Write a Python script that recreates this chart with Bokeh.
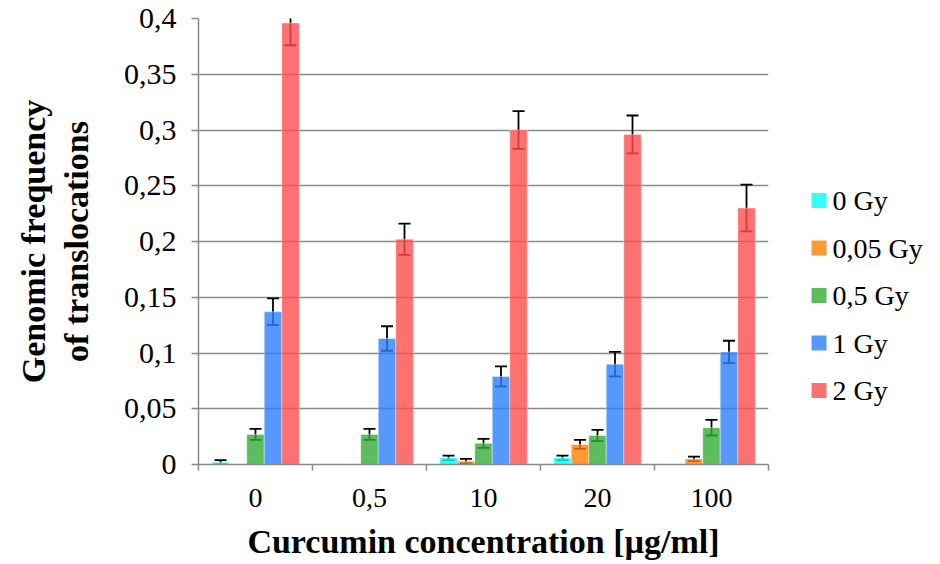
from bokeh.plotting import figure
from bokeh.layouts import row
from bokeh.models import (Range1d, FixedTicker, ColumnDataSource, Whisker, TeeHead,
                          CustomJSTickFormatter)
from bokeh.core.properties import value
from bokeh.embed import file_html
from bokeh.resources import INLINE

cats = ["0", "0,5", "10", "20", "100"]
series = ["0 Gy", "0,05 Gy", "0,5 Gy", "1 Gy", "2 Gy"]
gy0 = [0.002, 0.0, 0.006, 0.006, 0.0]
gy0_err = [0.002, 0.0, 0.002, 0.002, 0.0]
gy005 = [0.0, 0.0, 0.003, 0.018, 0.005]
gy005_err = [0.0, 0.0, 0.002, 0.004, 0.002]
gy05 = [0.027, 0.027, 0.019, 0.026, 0.033]
gy05_err = [0.005, 0.005, 0.004, 0.005, 0.007]
gy1 = [0.137, 0.113, 0.079, 0.090, 0.101]
gy1_err = [0.012, 0.011, 0.009, 0.011, 0.010]
gy2 = [0.396, 0.202, 0.300, 0.296, 0.230]
gy2_err = [0.020, 0.014, 0.017, 0.017, 0.021]
y_ticks = [0, 0.05, 0.1, 0.15, 0.2, 0.25, 0.3, 0.35, 0.4]

values = [gy0, gy005, gy05, gy1, gy2]
errors = [gy0_err, gy005_err, gy05_err, gy1_err, gy2_err]
colors = ["#00FFFF", "#FF7F00", "#33AC33", "#2A7FFF", "#FF4C4C"]

FONT = "Liberation Serif"
GRID = "#8A8A8A"
H = 562
TOP, BOTTOM = 18, 464   # frame edges (pixels from top)

p = figure(width=770, height=H, output_backend="svg", toolbar_location=None,
           x_range=Range1d(0, len(cats)), y_range=Range1d(0, 0.4),
           min_border_left=198, min_border_right=2, min_border_top=TOP,
           min_border_bottom=H - BOTTOM)
p.outline_line_color = None
p.background_fill_color = "white"

bw = 0.1535
n = len(series)
for j, (name, vals, errs, col) in enumerate(zip(series, values, errors, colors)):
    xs = [i + 0.5 + (j - (n - 1) / 2) * bw for i in range(len(cats))]
    src = ColumnDataSource(dict(x=xs, top=vals))
    p.vbar(x="x", top="top", width=bw, source=src, fill_color=col, fill_alpha=0.8,
           line_color="white", line_alpha=0.5, line_width=0.8)
    ex = [x for x, v in zip(xs, vals) if v > 0]
    up = [v + e for v, e in zip(vals, errs) if v > 0]
    lo = [v - e for v, e in zip(vals, errs) if v > 0]
    esrc = ColumnDataSource(dict(base=ex, upper=up, lower=lo))
    w = Whisker(base="base", upper="upper", lower="lower", source=esrc,
                line_color="black", line_width=1.8,
                upper_head=TeeHead(size=12, line_color="black", line_width=1.8),
                lower_head=TeeHead(size=12, line_color="black", line_width=1.8))
    p.add_layout(w)

# x axis: labels at category centers, tick marks at category boundaries
xt = FixedTicker(ticks=[i + 0.5 for i in range(len(cats))],
                 minor_ticks=list(range(len(cats) + 1)))
p.xaxis.ticker = xt
p.xaxis.major_label_overrides = {i + 0.5: c for i, c in enumerate(cats)}
p.xaxis.major_tick_line_color = None
p.xaxis.minor_tick_line_color = GRID
p.xaxis.minor_tick_line_width = 1.5
p.xaxis.minor_tick_out = 6
p.xaxis.minor_tick_in = 0
p.xaxis.axis_line_color = GRID
p.xaxis.axis_line_width = 1.5
p.xaxis.major_label_text_font = FONT
p.xaxis.major_label_text_font_size = "28px"
p.xaxis.major_label_text_color = "black"
p.xaxis.major_label_standoff = 18
p.xaxis.axis_label = "Curcumin concentration [µg/ml]"
p.xaxis.axis_label_text_font = FONT
p.xaxis.axis_label_text_font_style = "bold"
p.xaxis.axis_label_text_font_size = "34px"
p.xaxis.axis_label_text_color = "black"
p.xaxis.axis_label_standoff = 13

p.yaxis.ticker = FixedTicker(ticks=y_ticks)
p.yaxis.formatter = CustomJSTickFormatter(
    code="return String(Math.round(tick*100)/100).replace('.', ',');")
p.yaxis.major_tick_line_color = GRID
p.yaxis.major_tick_line_width = 1.5
p.yaxis.major_tick_out = 7
p.yaxis.major_tick_in = 0
p.yaxis.minor_tick_line_color = None
p.yaxis.axis_line_color = GRID
p.yaxis.axis_line_width = 1.5
p.yaxis.major_label_text_font = FONT
p.yaxis.major_label_text_font_size = "30px"
p.yaxis.major_label_text_color = "black"
p.yaxis.major_label_standoff = 15
p.yaxis.axis_label = "Genomic frequency\nof translocations"
p.yaxis.axis_label_text_font = FONT
p.yaxis.axis_label_text_font_style = "bold"
p.yaxis.axis_label_text_font_size = "34px"
p.yaxis.axis_label_text_line_height = 1.15
p.yaxis.axis_label_text_color = "black"
p.yaxis.axis_label_standoff = 26

p.xgrid.grid_line_color = None
p.ygrid.ticker = FixedTicker(ticks=y_ticks)
p.ygrid.grid_line_color = GRID
p.ygrid.grid_line_width = 1.5

# legend panel to the right of the plot; its frame is aligned with the main frame,
# so use pixel-like coordinates (y downward) spanning the same frame
LW = 168
lg = figure(width=LW, height=H, output_backend="svg", toolbar_location=None,
            x_range=Range1d(0, LW), y_range=Range1d(BOTTOM, TOP),
            min_border=0, outline_line_color=None)
lg.axis.visible = False
lg.grid.visible = False
top_item, step = 200, 47.5
ys = [top_item + i * step for i in range(len(series))]
lsrc = ColumnDataSource(dict(x=[48.5] * len(series), tx=[62] * len(series), y=ys,
                             label=series, color=colors))
lg.scatter(x="x", y="y", marker="square", size=15, fill_color="color", fill_alpha=0.8,
           line_color=None, source=lsrc)
lg.text(x="tx", y="y", text="label", source=lsrc, text_font=value(FONT),
        text_font_size="28px", text_color="black", text_baseline="middle",
        text_align="left")

open("out.html", "w").write(file_html(row(p, lg), INLINE))
